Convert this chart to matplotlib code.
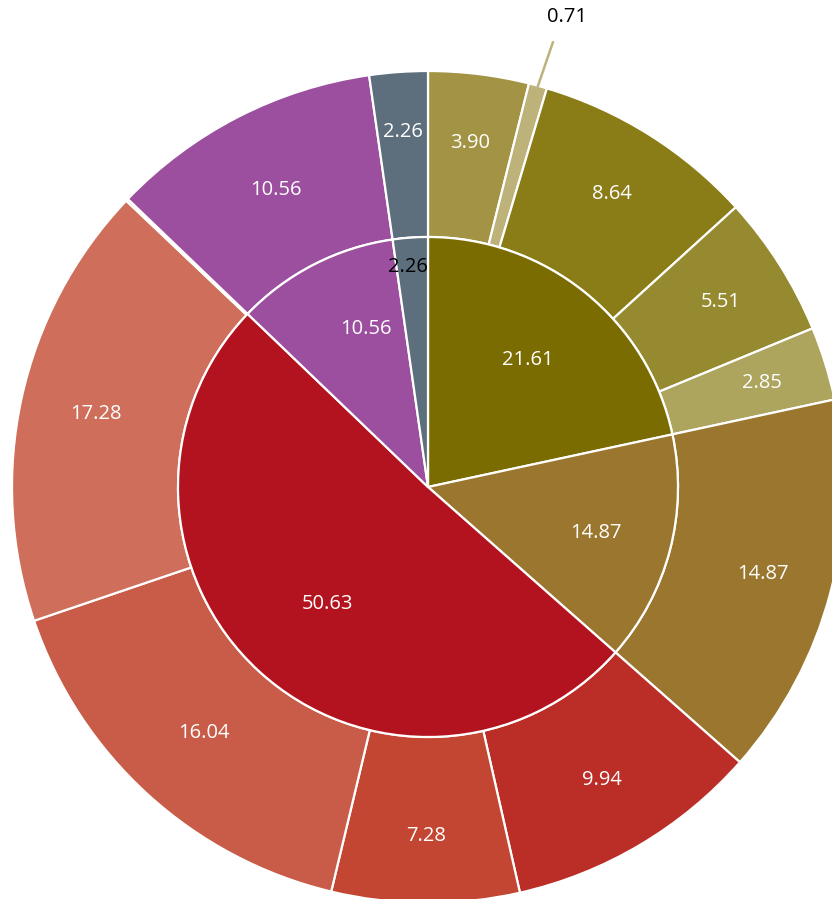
import numpy as np
import matplotlib
matplotlib.use("Agg")
import matplotlib.pyplot as plt

plt.rcParams['font.family'] = ['Open Sans', 'DejaVu Sans']

# inner ring (parents), clockwise from 12 o'clock
inner_vals = [21.61, 14.87, 50.63, 10.56, 2.26]
inner_colors = ['#7a6c00', '#9a762e', '#b3131e', '#9b4f9e', '#5d6e7c']

# outer ring (children)
outer_vals = [3.90, 0.71, 8.64, 5.51, 2.85, 14.87, 9.94, 7.28, 16.04, 17.28, 0.09, 10.56, 2.26]
outer_labels = ['3.90', '0.71', '8.64', '5.51', '2.85', '14.87', '9.94', '7.28', '16.04', '17.28', '',
                '10.56', '2.26']
outer_colors = ['#a29444', '#bcb27a', '#8a7c16', '#958a30', '#ada45e', '#9a762e',
                '#bb2e28', '#c24632', '#c95c48', '#cf6e5a', '#cf6e5a', '#9b4f9e', '#5d6e7c']

cx, cy = 428, 487
R_out, R_in = 416, 250

fig = plt.figure(figsize=(8.32, 8.99), dpi=100)
ax = fig.add_axes([0, 0, 1, 1])

ax.pie(outer_vals, radius=R_out, colors=outer_colors, startangle=90, counterclock=False,
       center=(0, 0), wedgeprops=dict(width=R_out - R_in, edgecolor='white', linewidth=1.6))
ax.pie(inner_vals, radius=R_in, colors=inner_colors, startangle=90, counterclock=False,
       center=(0, 0), wedgeprops=dict(edgecolor='white', linewidth=1.6))


def mid_angles(vals):
    v = np.array(vals, dtype=float)
    cum = np.cumsum(v) - v / 2
    return 90 - cum / v.sum() * 360


# inner labels (radius, angle nudge in degrees)
inner_r = [162, 174, 154, 170, 221]
inner_nudge = [0.7, -0.8, 2.0, -5.6, 1.1]
for v, a, r, d in zip(inner_vals, mid_angles(inner_vals), inner_r, inner_nudge):
    t = np.deg2rad(a + d)
    col = 'black' if v < 3 else 'white'
    ax.text(r * np.cos(t), r * np.sin(t), f'{v:.2f}', ha='center', va='center',
            color=col, fontsize=14.5)

# outer labels
outer_r = [347, 0, 346, 346, 350, 346, 341, 349, 333, 340, 0, 334, 356]
for lab, a, r in zip(outer_labels, mid_angles(outer_vals), outer_r):
    if not lab:
        continue
    t = np.deg2rad(a)
    if lab == '0.71':
        x0, y0 = R_out * np.cos(t), R_out * np.sin(t)
        x1, y1 = 461 * np.cos(t) + 3, 461 * np.sin(t)
        ax.plot([x0, x1], [y0, y1], color='#bcb27a', lw=1.8)
        ax.text(x1 + 14, y1 + 25, lab, ha='center', va='center', color='black', fontsize=14.5)
        continue
    ax.text(r * np.cos(t), r * np.sin(t), lab, ha='center', va='center',
            color='white', fontsize=14.5)

ax.set_xlim(-cx, 832 - cx)
ax.set_ylim(-(899 - cy), cy)
ax.set_aspect('equal', adjustable='box')
ax.axis('off')

fig.savefig('out.png', dpi=100)
